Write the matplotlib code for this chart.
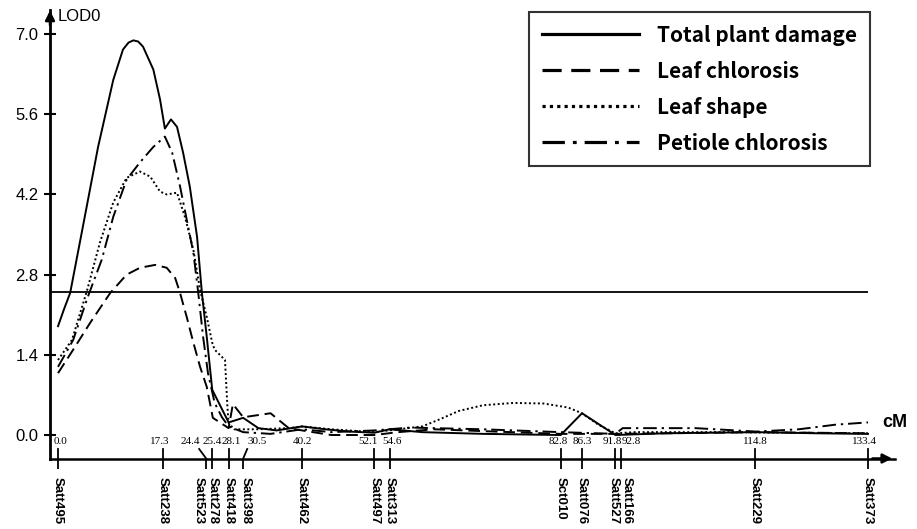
import matplotlib
matplotlib.use("Agg")
import matplotlib.pyplot as plt

# QTL scan, LOD score along the linkage group (cM)
cm_total = [0, 1.0, 2.0, 4.1, 6.6, 9.1, 10.7, 11.6, 12.4, 13.2, 14.0, 15.7, 16.8, 17.6, 18.6, 19.6,
            20.6, 21.7, 22.9, 23.7, 24.5, 25.4, 28.1, 30.5, 33.0, 36.0, 40.2, 44.0, 48.0, 52.1,
            54.6, 60.0, 70.0, 82.8, 86.3, 91.8, 100.0, 114.8, 125.0, 133.4]
lod_total = [1.90, 2.20, 2.48, 3.64, 5.03, 6.20, 6.73, 6.85, 6.89, 6.87, 6.78, 6.38, 5.86, 5.35, 5.51,
             5.38, 4.93, 4.34, 3.46, 2.48, 1.71, 0.79, 0.22, 0.30, 0.12, 0.08, 0.15, 0.10, 0.06,
             0.04, 0.10, 0.05, 0.02, 0.00, 0.38, 0.00, 0.03, 0.05, 0.03, 0.02]

cm_chl = [0, 2.5, 5.3, 8.6, 11.3, 13.5, 16.0, 17.9, 19.3, 20.1, 21.2, 22.3, 23.4, 24.5, 25.5,
          28.1, 28.8, 30.5, 31.8, 35.0, 38.0, 40.2, 45.0, 52.1, 56.0, 62.0, 72.0, 82.8, 91.8,
          100.0, 115.0, 133.4]
lod_chl = [1.08, 1.49, 1.96, 2.48, 2.80, 2.92, 2.97, 2.92, 2.74, 2.48, 2.06, 1.61, 1.19, 0.84, 0.30,
           0.12, 0.54, 0.31, 0.33, 0.38, 0.12, 0.08, 0.00, 0.00, 0.05, 0.10, 0.06, 0.02, 0.02,
           0.03, 0.05, 0.03]

cm_shape = [0, 2.3, 4.8, 6.9, 9.1, 11.3, 13.5, 15.2, 16.8, 17.9, 19.6, 20.9, 22.3, 23.4, 24.5,
            25.4, 25.8, 27.5, 27.9, 28.1, 29.0, 33.0, 38.0, 40.2, 45.0, 52.1, 56.0, 60.0, 63.0,
            66.0, 70.0, 75.0, 80.0, 84.0, 86.3, 89.0, 91.8, 95.0, 110.0, 133.4]
lod_shape = [1.31, 1.66, 2.53, 3.36, 4.06, 4.49, 4.60, 4.51, 4.25, 4.20, 4.23, 3.81, 3.23, 2.53, 2.06,
             1.61, 1.49, 1.31, 0.49, 0.21, 0.10, 0.10, 0.12, 0.15, 0.10, 0.05, 0.10, 0.15, 0.28,
             0.42, 0.52, 0.56, 0.55, 0.48, 0.38, 0.18, 0.03, 0.05, 0.05, 0.03]

cm_pet = [0, 2.5, 4.9, 7.2, 9.1, 11.3, 13.5, 15.7, 17.6, 18.8, 20.1, 21.2, 22.3, 23.1, 23.9,
          24.7, 25.8, 27.0, 28.1, 30.5, 35.0, 40.2, 45.0, 52.1, 58.0, 70.0, 82.8, 91.8, 93.0,
          105.0, 115.0, 122.0, 128.0, 133.4]
lod_pet = [1.19, 1.66, 2.41, 3.06, 3.81, 4.46, 4.76, 5.03, 5.21, 4.93, 4.34, 3.76, 3.18, 2.48, 1.71,
           1.08, 0.56, 0.31, 0.15, 0.05, 0.02, 0.10, 0.05, 0.08, 0.13, 0.10, 0.05, 0.02, 0.12,
           0.12, 0.06, 0.10, 0.18, 0.22]

threshold = 2.5

marker_pos = [0.0, 17.3, 24.4, 25.4, 28.1, 30.5, 40.2, 52.1, 54.6, 82.8, 86.3, 91.8, 92.8, 114.8, 133.4]
marker_names = ["Satt495", "Satt238", "Satt523", "Satt278", "Satt418", "Satt398", "Satt462",
                "Satt497", "Satt313", "Sct010", "Satt076", "Satt527", "Satt166", "Satt229", "Satt373"]

y_ticks = [0.0, 1.4, 2.8, 4.2, 5.6, 7.0]

# layout tweaks (pixels) for crowded labels
num_shift = [2, -3, -16, 0, 3, 14, 0, -6, 3, -3, 0, -3, 10, 0, -3]
name_shift = [0, 0, -7, 0, 0, 2, 0, 0, 0, 0, 0, -2, 5, 0, 0]
tick_slant = {24.4: -7, 30.5: 4}

W, H = 917, 529
fig = plt.figure(figsize=(W / 100, H / 100), dpi=100)
ax = fig.add_axes([50 / W, (H - 458.5) / H, 845 / W, 448.5 / H])
ax.set_xlim(-1.32, 137.85)
ax.set_ylim(-0.41, 7.42)
px_cm = 845 / (137.85 + 1.32)
px_lod = 448.5 / (7.42 + 0.41)

lw = 1.4
l1, = ax.plot(cm_total, lod_total, color="black", lw=lw, ls="-")
l2, = ax.plot(cm_chl, lod_chl, color="black", lw=lw, ls=(0, (6, 3)))
l3, = ax.plot(cm_shape, lod_shape, color="black", lw=lw, ls=(0, (1, 1.3)))
l4, = ax.plot(cm_pet, lod_pet, color="black", lw=lw, ls=(0, (7, 2.5, 1.2, 2.5)))

ax.hlines(threshold, -1.32, marker_pos[-1], color="black", lw=1.3)

# axes
for s in ["top", "right"]:
    ax.spines[s].set_visible(False)
ax.spines["left"].set_linewidth(2.0)
ax.spines["bottom"].set_linewidth(1.8)
ax.annotate("", xy=(0, 1.005), xycoords="axes fraction", xytext=(0, 0.96),
            arrowprops=dict(arrowstyle="-|>", color="black", lw=1.8, mutation_scale=14),
            annotation_clip=False)
ax.annotate("", xy=(1.0, 0), xycoords="axes fraction", xytext=(0.97, 0),
            arrowprops=dict(arrowstyle="-|>", color="black", lw=1.8, mutation_scale=14),
            annotation_clip=False)

ax.set_yticks(y_ticks)
ax.set_yticklabels(["%.1f" % v for v in y_ticks], fontsize=12, family="Liberation Sans")
ax.tick_params(axis="y", direction="inout", length=8.5, width=1.5, pad=4)

ax.set_xticks(marker_pos)
ax.set_xticklabels([""] * len(marker_pos))
ax.tick_params(axis="x", direction="out", length=7.2, width=1.3)

y_bot = -0.41
y_top = y_bot + 9.5 / px_lod
for p in marker_pos:
    dx = tick_slant.get(p, 0) / px_cm
    ax.plot([p, p + dx], [y_bot, y_top], color="black", lw=1.3, clip_on=False)

for p, n, sn, sl in zip(marker_pos, marker_names, name_shift, num_shift):
    lab = "%.1f" % p
    ax.annotate(lab, xy=(p, 0), xycoords="data", xytext=(sl * 0.72, -4.6),
                textcoords="offset points", ha="center", va="center",
                fontsize=8, family="Liberation Serif")
    ax.annotate(n, xy=(p, 0), xycoords=("data", "axes fraction"), xytext=(sn * 0.72, -13.5),
                textcoords="offset points", ha="center", va="top", rotation=270,
                fontsize=9.5, fontweight="bold", family="Liberation Sans")

ax.text(0.0, 7.30, "LOD0", fontsize=12, family="Liberation Sans", ha="left", va="center")
ax.text(135.8, 0.21, "cM", fontsize=13, fontweight="bold", family="Liberation Sans",
        ha="left", va="center")

leg = ax.legend([l1, l2, l3, l4],
                ["Total plant damage", "Leaf chlorosis", "Leaf shape", "Petiole chlorosis"],
                loc="upper left", bbox_to_anchor=(529 / W, 1 - 12 / H), bbox_transform=fig.transFigure,
                borderaxespad=0, fancybox=False, framealpha=1, edgecolor="#333333",
                handlelength=4.7, handletextpad=0.85, labelspacing=0.72, borderpad=0.6,
                prop=dict(family="Noto Sans CJK KR", weight="bold", size=15))
leg.get_frame().set_linewidth(1.5)
for h in leg.legend_handles:
    h.set_linewidth(2.3)

fig.savefig("out.png", dpi=100)
